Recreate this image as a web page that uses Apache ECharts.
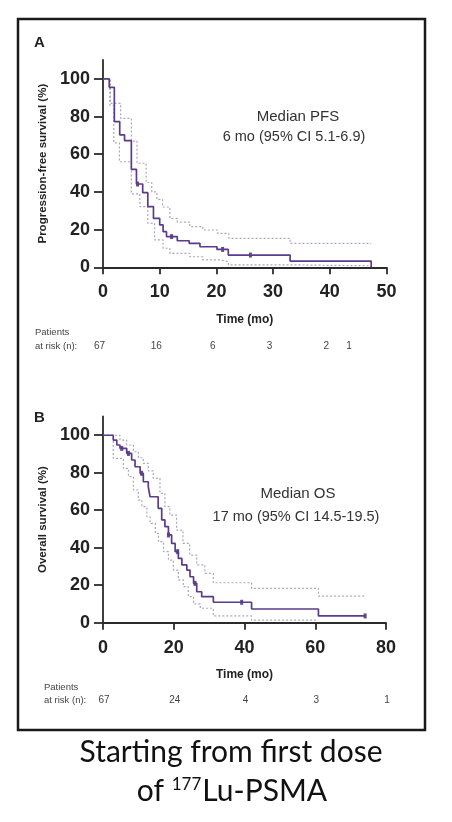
<!DOCTYPE html>
<html><head><meta charset="utf-8">
<script src="https://cdn.jsdelivr.net/npm/echarts@6/dist/echarts.min.js"></script>
<style>html,body{margin:0;padding:0;background:#fff}#c{width:452px;height:822px}</style>
</head><body><div id="c"></div>
<script>
// ---- Panel A: progression-free survival ----
const pfsTime = [0, 1.1, 2.0, 2.95, 3.8, 5.0, 5.9, 7.0, 7.9, 8.9, 10.0, 10.6, 11.2, 13.1, 15.2, 17.1, 20.1, 22.1, 33.0, 47.3];
const pfsSurv = [100, 95.5, 77.3, 70.3, 67.2, 52.0, 44.2, 39.6, 32.2, 26.0, 22.5, 18.9, 16.3, 14.1, 12.7, 10.9, 9.5, 6.5, 3.3, 0];
const pfsUpperTime = [0, 1.3, 3.1, 5.0, 6.0, 7.6, 8.6, 9.5, 10.5, 11.8, 13.1, 15.3, 17.6, 20.2, 22.2, 33.0, 47.3];
const pfsUpper = [100, 87, 79, 67, 55.2, 45, 40, 36, 32, 26, 24, 21.6, 19.8, 18, 15.4, 12.7, 12.7];
const pfsLowerTime = [0, 1.2, 1.9, 2.9, 5.0, 6.5, 7.9, 9.1, 10.6, 11.8, 15.3, 17.6, 20.6, 22.1, 33.0, 47.3];
const pfsLower = [100, 86, 66, 56, 39, 32.2, 23.4, 14.5, 10.1, 7.4, 5.6, 3.9, 3.0, 1.3, 0.8, 0.8];
const pfsCensorTime = [6.1, 12.1, 21.1, 26.0];
const pfsCensorSurv = [44.2, 16.3, 9.5, 6.5];
const riskTimesA = [0, 10, 20, 30, 40, 44];
const riskA = ['67', '16', '6', '3', '2', '1'];

// ---- Panel B: overall survival ----
const osTime = [0, 2.9, 3.9, 4.8, 6.7, 8.1, 9.05, 10.5, 11.4, 12.8, 13.3, 15.6, 16.6, 17.5, 18.5, 19.4, 20.4, 21.3, 22.3, 23.7, 24.6, 25.6, 26.5, 27.9, 31.2, 42.0, 60.9, 74.1];
const osSurv = [100, 97.4, 94.8, 93.0, 90.3, 86.8, 83.2, 79.7, 75.2, 72.5, 67.2, 61.0, 54.8, 51.2, 46.8, 42.3, 37.9, 34.3, 30.8, 28.1, 24.5, 21.0, 16.5, 13.9, 10.9, 7.3, 3.6, 3.6];
const osUpperTime = [0, 4.8, 6.7, 8.6, 10.0, 11.4, 12.8, 14.2, 16.1, 17.5, 18.9, 20.8, 22.6, 24.5, 26.5, 28.8, 31.2, 42.0, 60.9, 74.1];
const osUpper = [100, 97.4, 94.8, 91.2, 88, 85, 81, 77, 69, 61.9, 57.4, 49.4, 42.3, 36.1, 30.8, 26.3, 21.3, 18.3, 14.2, 14.2];
const osLowerTime = [0, 2.9, 5.75, 7.2, 8.6, 10.0, 11.0, 12.4, 13.3, 14.8, 15.7, 17.1, 18.5, 19.9, 21.3, 22.7, 24.1, 25.6, 27.5, 31.2, 42.0, 60.9];
const osLower = [100, 87.7, 82.3, 77.9, 70.8, 65.4, 61.9, 56.5, 53.0, 47.7, 43.2, 37.9, 33.4, 28.1, 22.8, 19.2, 13.9, 10.0, 7.7, 3.6, 1.4, 1.4];
const osCensorTime = [5.3, 7.2, 10.9, 18.5, 21.1, 26.0, 39.2, 74.1];
const osCensorSurv = [93.0, 90.3, 79.7, 46.8, 37.9, 21.0, 10.9, 3.6];
const riskTimesB = [0, 20, 40, 60, 80];
const riskB = ['67', '24', '4', '3', '1'];

const yTicks = [0, 20, 40, 60, 80, 100];
const xMaxA = 50, xIntA = 10, xMaxB = 80, xIntB = 20, yMax = 110;

const zip = (a, b) => a.map((v, i) => [v, b[i]]);
const AX = '#2b2b2b';
const SOLID = '#5b3b8c';
const CI = '#aea3c2';
const FONT = 'Liberation Sans, Arial, sans-serif';

function xAxisCfg(g, max, interval) {
  return {
    gridIndex: g, type: 'value', min: 0, max: max, interval: interval,
    axisLine: { show: true, onZero: false, lineStyle: { color: AX, width: 1.8 } },
    axisTick: { show: true, length: 7, lineStyle: { color: AX, width: 1.8 } },
    axisLabel: { margin: 16, fontSize: 18, fontWeight: 'bold', color: '#222', fontFamily: FONT },
    splitLine: { show: false },
    name: 'Time (mo)', nameLocation: 'middle', nameGap: 46,
    nameTextStyle: { fontSize: 12, fontWeight: 'bold', color: '#222', fontFamily: FONT }
  };
}
function yAxisCfg(g, name) {
  return {
    gridIndex: g, type: 'value', min: 0, max: yMax,
    axisLine: { show: true, onZero: false, lineStyle: { color: AX, width: 1.8 } },
    axisTick: { show: true, length: 9, customValues: yTicks, lineStyle: { color: AX, width: 1.8 } },
    axisLabel: { margin: 13, fontSize: 18, fontWeight: 'bold', color: '#222', fontFamily: FONT, customValues: yTicks },
    splitLine: { show: false },
    name: name, nameLocation: 'middle', nameGap: 52, nameRotate: 90,
    nameTextStyle: { fontSize: 11.5, fontWeight: 'bold', color: '#222', fontFamily: FONT }
  };
}
function stepLine(idx, t, s, color, dashed, width) {
  return {
    type: 'line', xAxisIndex: idx, yAxisIndex: idx, data: zip(t, s), step: 'end',
    showSymbol: false, symbol: 'none', silent: true, animation: false,
    lineStyle: { color: color, width: width, type: dashed ? [2, 2] : 'solid' }
  };
}
function censor(idx, t, s) {
  return {
    type: 'scatter', xAxisIndex: idx, yAxisIndex: idx, data: zip(t, s),
    symbol: 'rect', symbolSize: [3, 5], itemStyle: { color: '#3a2163' }, animation: false, silent: true
  };
}

const chart = echarts.init(document.getElementById('c'));
chart.setOption({
  animation: false,
  backgroundColor: '#fff',
  grid: [
    { left: 103, right: 65.5, top: 60, height: 207.3 },
    { left: 103, right: 66, top: 416.5, height: 206.2 }
  ],
  xAxis: [xAxisCfg(0, xMaxA, xIntA), xAxisCfg(1, xMaxB, xIntB)],
  yAxis: [yAxisCfg(0, 'Progression-free survival (%)'), yAxisCfg(1, 'Overall survival (%)')],
  series: [
    stepLine(0, pfsUpperTime, pfsUpper, CI, true, 1.2),
    stepLine(0, pfsLowerTime, pfsLower, CI, true, 1.2),
    stepLine(0, pfsTime, pfsSurv, SOLID, false, 1.7),
    censor(0, pfsCensorTime, pfsCensorSurv),
    stepLine(1, osUpperTime, osUpper, CI, true, 1.2),
    stepLine(1, osLowerTime, osLower, CI, true, 1.2),
    stepLine(1, osTime, osSurv, SOLID, false, 1.7),
    censor(1, osCensorTime, osCensorSurv)
  ]
});

function txt(x, y, text, size, weight, align, color) {
  return { type: 'text', x: x, y: y, silent: true,
    style: { text: text, fontSize: size, fontWeight: weight || 'normal', fontFamily: FONT,
      fill: color || '#222', align: align || 'left', verticalAlign: 'middle' } };
}
const g = [];
g.push({ type: 'rect', shape: { x: 18, y: 19, width: 407, height: 711 }, silent: true,
  style: { fill: 'none', stroke: '#1a1a1a', lineWidth: 2.5 } });
g.push(txt(34, 43, 'A', 15, 'bold'));
g.push(txt(34, 418, 'B', 15, 'bold'));
g.push(txt(298, 117, 'Median PFS', 15, 'normal', 'center', '#333'));
g.push(txt(294, 137, '6 mo (95% CI 5.1-6.9)', 14.5, 'normal', 'center', '#333'));
g.push(txt(298, 494, 'Median OS', 15, 'normal', 'center', '#333'));
g.push(txt(296, 517, '17 mo (95% CI 14.5-19.5)', 14.5, 'normal', 'center', '#333'));
g.push(txt(35, 332, 'Patients', 9.5, 'normal', 'left', '#444'));
g.push(txt(35, 346, 'at risk (n):', 9.5, 'normal', 'left', '#444'));
g.push(txt(44, 687, 'Patients', 9.5, 'normal', 'left', '#444'));
g.push(txt(44, 700, 'at risk (n):', 9.5, 'normal', 'left', '#444'));
riskTimesA.forEach((t, i) => {
  const p = chart.convertToPixel({ xAxisIndex: 0, yAxisIndex: 0 }, [t, 0]);
  g.push(txt(p[0] - 3.5, 346, riskA[i], 10, 'normal', 'center', '#444'));
});
riskTimesB.forEach((t, i) => {
  const p = chart.convertToPixel({ xAxisIndex: 1, yAxisIndex: 1 }, [t, 0]);
  g.push(txt(p[0] + 1, 700, riskB[i], 10, 'normal', 'center', '#444'));
});
g.push({ type: 'text', x: 231, y: 752, silent: true,
  style: { text: 'Starting from first dose', fontSize: 30, fontFamily: 'Lato, sans-serif', fill: '#111', align: 'center', verticalAlign: 'middle' } });
g.push({ type: 'text', x: 232, y: 791, silent: true,
  style: { text: '{n|of }{s|177}{n|Lu-PSMA}', align: 'center', verticalAlign: 'middle', fill: '#111',
    rich: { n: { fontSize: 30, fontFamily: 'Lato, sans-serif', fill: '#111' },
            s: { fontSize: 17, fontFamily: 'Lato, sans-serif', fill: '#111', verticalAlign: 'top', padding: [0, 1, 11, 0] } } } });
chart.setOption({ graphic: g });
</script>
</body></html>
